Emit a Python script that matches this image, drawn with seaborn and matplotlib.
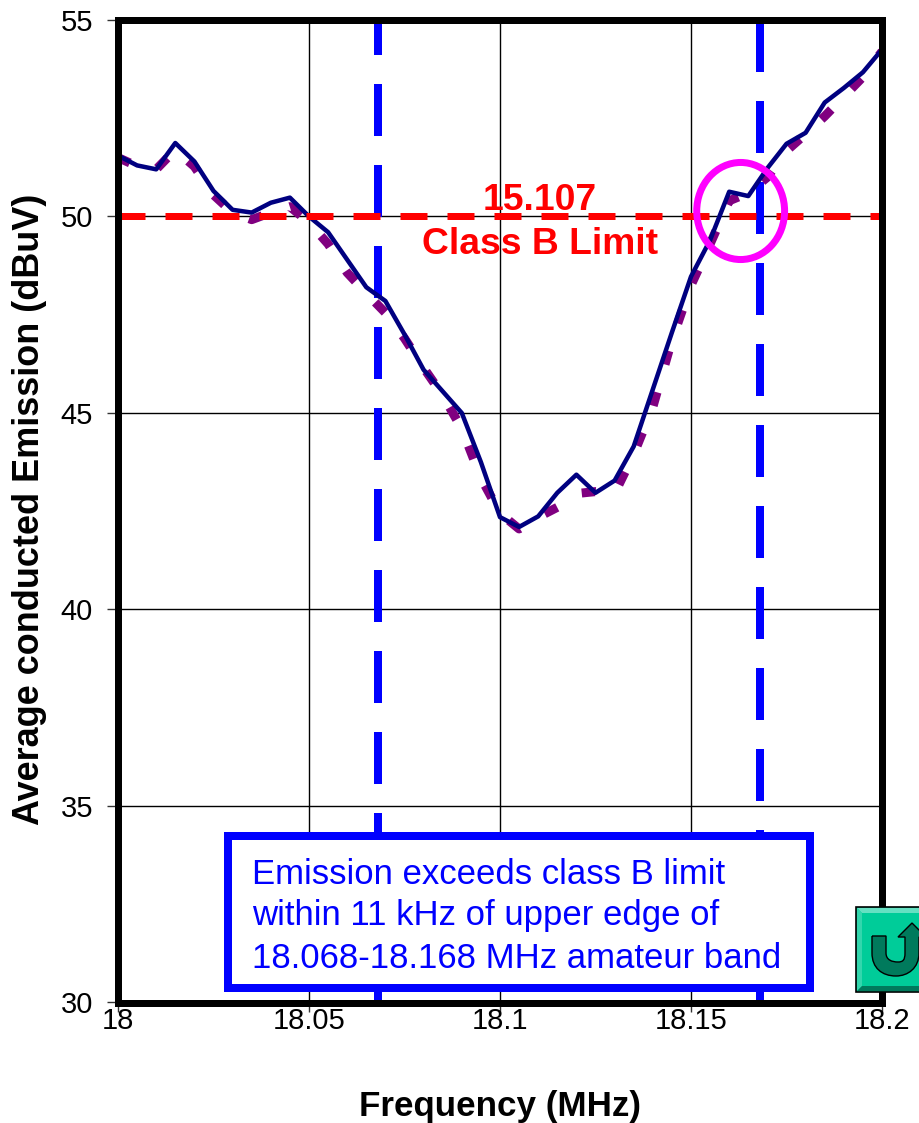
"""
Average conducted emission vs frequency, with the 15.107 class B limit
and the 18.068-18.168 MHz amateur band edges
"""

import pandas as pd
import matplotlib
matplotlib.use("Agg")
import matplotlib.pyplot as plt
import seaborn as sns
from matplotlib.patches import Ellipse, Polygon, Rectangle, PathPatch
from matplotlib.path import Path

# === Data ===
freq_offsets_khz = [0, 5, 10, 15, 20, 25, 30, 35, 40, 45, 50, 55, 60, 65, 70, 75, 80, 85, 90, 95,
                    100, 105, 110, 115, 120, 125, 130, 135, 140, 145, 150, 155, 160, 165, 170,
                    175, 180, 185, 190, 195, 200]
measured = [51.55, 51.3, 51.2, 51.87, 51.4, 50.65, 50.17, 50.1, 50.35, 50.48, 50.0, 49.6, 48.9,
            48.2, 47.85, 47.0, 46.1, 45.55, 45.0, 43.75, 42.35, 42.1, 42.37, 42.97, 43.43,
            42.97, 43.28, 44.15, 45.6, 47.05, 48.47, 49.4, 50.63, 50.52, 51.23, 51.85, 52.13,
            52.9, 53.27, 53.67, 54.25]
reference = [51.5, 51.28, 51.2, 51.7, 51.27, 50.55, 50.1, 49.92, 50.1, 50.25, 49.85, 49.3, 48.57,
             48.05, 47.55, 46.9, 46.15, 45.45, 44.6, 43.35, 42.45, 42.05, 42.35, 42.6, 42.95,
             43.0, 42.95, 43.95, 45.15, 46.85, 48.25, 49.3, 50.4, 50.6, 51.0, 51.67, 52.1,
             52.55, 53.05, 53.55, 54.2]
limit_dbuv = 50
band_edges = [18.068, 18.168]
x_ticks = [18, 18.05, 18.1, 18.15, 18.2]
x_tick_labels = ["18", "18.05", "18.1", "18.15", "18.2"]
y_ticks = [30, 35, 40, 45, 50, 55]
note_lines = ["Emission exceeds class B limit",
              "within 11 kHz of upper edge of",
              "18.068-18.168 MHz amateur band"]

W, H = 919, 1123
PX = 0.72  # points per pixel at dpi 100
NAVY = "#000080"
PURPLE = "#800080"
BLUE = "#0000FF"
RED = "#FF0000"
MAGENTA = "#FF00FF"

sns.set_theme(style="white")
plt.rcParams["font.family"] = ["Liberation Sans", "DejaVu Sans"]
plt.rcParams["lines.scale_dashes"] = False

df = pd.DataFrame({
    "freq": [18 + k / 1000 for k in freq_offsets_khz],
    "measured": measured,
    "reference": reference,
})

fig = plt.figure(figsize=(W / 100, H / 100), dpi=100, facecolor="white")
ax = fig.add_axes([118 / W, 1 - 1002.5 / H, (882 - 118) / W, (1002.5 - 20) / H])

sns.lineplot(data=df, x="freq", y="reference", ax=ax, color=PURPLE, linewidth=9 * PX,
             linestyle=(1 * PX, (14 * PX, 29 * PX)), zorder=3, errorbar=None)
sns.lineplot(data=df, x="freq", y="measured", ax=ax, color=NAVY, linewidth=4.5 * PX,
             zorder=4, errorbar=None)

# band edges, the two lines have a different dash phase
for edge, phase in zip(band_edges, [17, 0]):
    ax.plot([edge, edge], [55, 30], color=BLUE, linewidth=8 * PX,
            linestyle=(phase * PX, (52 * PX, 29 * PX)), zorder=2.5)

ax.plot([18, 18.2], [limit_dbuv, limit_dbuv], color=RED, linewidth=7 * PX,
        linestyle=(0, (27 * PX, 20 * PX)), zorder=5)

ax.set_xlim(18, 18.2)
ax.set_ylim(30, 55)
ax.set_xticks(x_ticks)
ax.set_xticklabels(x_tick_labels)
ax.set_yticks(y_ticks)
ax.grid(True, color="black", linewidth=1)
ax.set_axisbelow(True)
ax.tick_params(axis="x", length=6.5, width=1, color="#333333", labelsize=21, labelcolor="black", pad=-3.6, bottom=True)
ax.tick_params(axis="y", length=8, width=1, color="#333333", labelsize=21, labelcolor="black", pad=10, left=True)
for spine in ax.spines.values():
    spine.set_visible(True)
    spine.set_color("black")
    spine.set_linewidth(7 * PX)
    spine.set_zorder(6)

ax.set_xlabel("Frequency (MHz)", fontsize=25.2, fontweight="bold", color="black")
ax.set_ylabel("Average conducted Emission (dBuV)", fontsize=25.9, fontweight="bold", color="black")
ax.xaxis.set_label_coords(0.5, -0.089)
ax.yaxis.set_label_coords(-0.093, 0.502)

ax.add_patch(Ellipse((18.163, 50.14), 0.0230, 2.47, fill=False, edgecolor=MAGENTA,
                     linewidth=7 * PX, zorder=7))
ax.text(18.1105, 49.96, "15.107", color=RED, fontsize=26.8, fontweight="bold",
        ha="center", va="bottom", zorder=6)
ax.text(18.1105, 49.3, "Class B Limit", color=RED, fontsize=26.8, fontweight="bold",
        ha="center", va="center", zorder=6)

# overlay in pixel coordinates for the note box and the return button
over = fig.add_axes([0, 0, 1, 1], zorder=10)
over.set_xlim(0, W)
over.set_ylim(H, 0)
over.axis("off")

over.add_patch(Rectangle((228, 836), 582, 152, facecolor="white", edgecolor=BLUE, linewidth=8 * PX))
for i, line in enumerate(note_lines):
    over.text(252, 874 + i * 42, line, color=BLUE, fontsize=25, ha="left", va="center")

over.add_patch(Rectangle((856, 907), 70, 85, facecolor="#00CC99", edgecolor="black", linewidth=1.2))
over.add_patch(Polygon([(857, 908), (926, 908), (926, 913), (862, 913)], facecolor="#66E0C2", edgecolor="none"))
over.add_patch(Polygon([(857, 908), (862, 913), (862, 986), (857, 991)], facecolor="#33D6AD", edgecolor="none"))
over.add_patch(Polygon([(857, 991), (862, 986), (926, 986), (926, 991)], facecolor="#007A5C", edgecolor="none"))
u_verts = [(872, 936), (886, 936), (886, 953), (886, 960), (892, 962), (898, 962),
           (903, 962), (905, 960), (905, 953), (905, 937), (898, 937), (912, 923),
           (926, 937), (919, 937), (919, 953), (919, 968), (908, 976), (896, 976),
           (882, 976), (872, 968), (872, 953), (872, 936)]
u_codes = [Path.MOVETO, Path.LINETO, Path.LINETO, Path.CURVE4, Path.CURVE4, Path.CURVE4,
           Path.CURVE4, Path.CURVE4, Path.CURVE4, Path.LINETO, Path.LINETO, Path.LINETO,
           Path.LINETO, Path.LINETO, Path.LINETO, Path.CURVE4, Path.CURVE4, Path.CURVE4,
           Path.CURVE4, Path.CURVE4, Path.CURVE4, Path.LINETO]
over.add_patch(PathPatch(Path(u_verts, u_codes), facecolor="#007A5C", edgecolor="black", linewidth=1))

fig.savefig("out.png", dpi=100)
